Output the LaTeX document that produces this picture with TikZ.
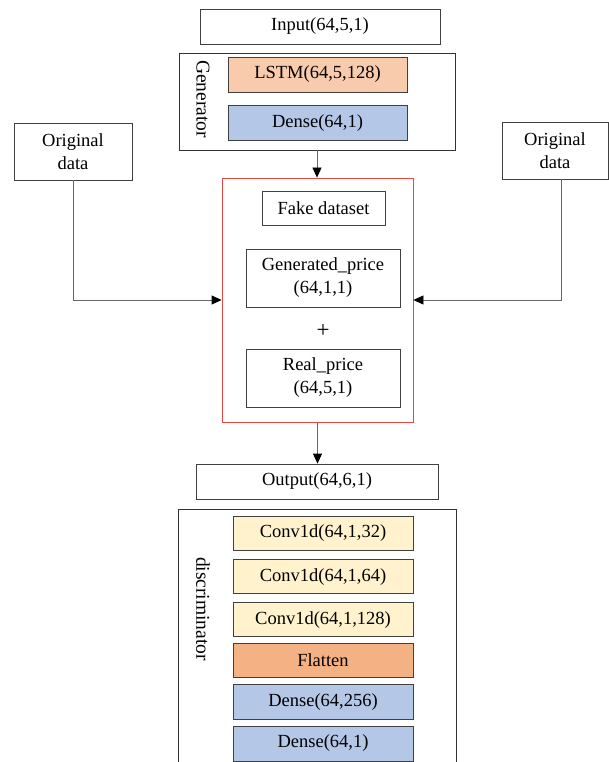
\documentclass[tikz,border=0pt]{standalone}
\usepackage{fontspec}
\setmainfont{Liberation Serif}
\usetikzlibrary{positioning,arrows.meta,calc}
\definecolor{lstmc}{HTML}{F8CBAD}
\definecolor{densec}{HTML}{B4C7E7}
\definecolor{convc}{HTML}{FFF2CC}
\definecolor{flatc}{HTML}{F4B183}
\definecolor{redc}{HTML}{E84545}
\tikzset{
  box/.style     ={draw=black!75, line width=0.8pt, minimum height=35pt,
                   inner sep=0pt, align=center, font=\fontsize{18.5}{23}\selectfont},
  lstm/.style    ={box, fill=lstmc, minimum width=179pt},
  dns/.style     ={box, fill=densec, minimum width=180pt},
  conv/.style    ={box, fill=convc, minimum width=180pt, minimum height=34pt},
  flat/.style    ={box, fill=flatc, minimum width=180pt, minimum height=34pt},
  frame/.style   ={draw=black!80, line width=0.8pt, inner sep=0pt},
  redframe/.style={draw=redc, line width=0.8pt, inner sep=0pt},
  side/.style    ={font=\fontsize{19.5}{22}\selectfont, rotate=-90},
  fl/.style      ={draw=black!60, line width=0.8pt,
                   -{Triangle[length=10pt,width=9pt,color=black]}},
}

\begin{document}
\begin{tikzpicture}[x=1pt,y=-1pt]
  \clip (0,0) rectangle (609,762);

  % --- generator ------------------------------------------------------
  \node[box, minimum width=240pt] (input) at (320,26.5) {Input(64,5,1)};
  \node[frame, minimum width=276pt, minimum height=97pt] (gen) at (317,101.5) {};
  \node[lstm] (lstm) at (317.5,74.5) {LSTM(64,5,128)};
  \node[dns, minimum width=179pt, below=13pt of lstm] (gdense) {Dense(64,1)};
  \node[side] (genlbl) at (203,99) {Generator};

  % --- original data --------------------------------------------------
  \node[box, minimum width=118pt, minimum height=57pt] (origL) at (73,151.5) {Original\\data};
  \node[box, minimum width=106pt, minimum height=57pt] (origR) at (555,150.5) {Original\\data};

  % --- fake dataset ---------------------------------------------------
  \node[redframe, minimum width=191pt, minimum height=244pt] (fake) at (317.5,300) {};
  \node[box, minimum width=123pt, minimum height=34pt] (fds) at (323.5,208) {Fake dataset};
  \node[box, minimum width=154pt, minimum height=58pt] (genp) at (323,278)
        {Generated\_price\\(64,1,1)};
  \node[font=\fontsize{23}{24}\selectfont] (plus) at (323,331) {+};
  \node[box, minimum width=154pt, minimum height=58pt] (realp) at (323,378)
        {Real\_price\\(64,5,1)};

  \node[box, minimum width=242pt] (out) at (317,481.5) {Output(64,6,1)};

  % --- discriminator --------------------------------------------------
  \node[frame, minimum width=278pt, minimum height=280pt, anchor=north] (disc) at (317,509) {};
  \node[conv] (c1) at (323,533) {Conv1d(64,1,32)};
  \node[conv, below=9pt of c1] (c2) {Conv1d(64,1,64)};
  \node[conv, below=8pt of c2] (c3) {Conv1d(64,1,128)};
  \node[flat, below=6pt of c3] (flt) {Flatten};
  \node[dns, below=6pt of flt] (d1) {Dense(64,256)};
  \node[dns, below=6pt of d1] (d2) {Dense(64,1)};
  \node[side] (disclbl) at (203,609) {discriminator};

  % --- arrows ---------------------------------------------------------
  \draw[fl] (gen.south) -- (gen.south |- fake.north);
  \draw[fl] (origL.south) |- (fake.west);
  \draw[fl] ([xshift=6pt]origR.south) |- (fake.east);
  \draw[fl] (fake.south) -- (fake.south |- out.north);
\end{tikzpicture}
\end{document}
